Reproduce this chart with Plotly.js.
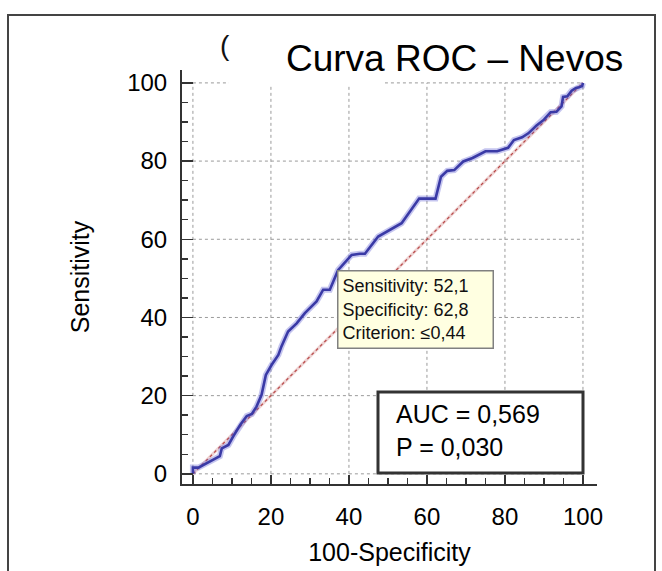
<!DOCTYPE html>
<html>
<head>
<meta charset="utf-8">
<script src="https://cdn.plot.ly/plotly-3.0.1.min.js"></script>
<style>html,body{margin:0;padding:0;background:#fff;}</style>
</head>
<body>
<div id="chart" style="width:662px;height:571px;"></div>
<script>
// 100-Specificity (false positive rate, %)
const fpr = [0,0,1.4,5.2,6.9,7.4,9.1,10.3,12.1,13.8,15.1,16.3,17.6,18.7,20.2,21.9,22.7,24.4,26.6,28.7,31.7,33.4,35.1,37.2,39,40.7,42.8,44.1,47.5,53.5,58,62.2,63.6,65.2,67,69.3,71.7,75,78,80.2,80.8,82.3,84.4,86,88.1,90,91.7,93.2,94.5,94.9,96,97.1,98.2,99,99.8,100];
// Sensitivity (%)
const tpr = [0,1.6,1.6,3.5,4.5,6.5,7.4,9.5,12.5,14.8,15.3,17.2,20.2,25.3,27.9,30.4,32.6,36.4,38.5,41.1,44.1,47.1,47.1,52.1,54.2,56,56.3,56.3,60.7,64.1,70.4,70.4,76,77.5,77.7,79.9,80.8,82.5,82.5,83.3,83.4,85.4,86.1,87.1,89.1,90.6,92.5,92.6,94,96.4,96.6,98,98.7,98.9,99.2,100];
const diagX = [0,100];
const diagY = [0,100];
const tickVals = [0,20,40,60,80,100];
const tooltipLines = ["Sensitivity: 52,1","Specificity: 62,8","Criterion: \u22640,44"];
const statLines = ["AUC = 0,569","P = 0,030"];
const titleText = "Curva ROC \u2013 Nevos";

const W = 662, H = 571;
const L = 182, R = 65, T = 70, B = 87;
const pw = W - L - R, ph = H - T - B;
const px = v => (v - L) / pw;
const py = v => (H - B - v) / ph;

const FONT = "Liberation Sans, Arial, sans-serif";

const traces = [
  {x: diagX, y: diagY, mode: 'lines', line: {color: 'rgba(200,110,110,0.3)', width: 3}, hoverinfo: 'skip', showlegend: false},
  {x: diagX, y: diagY, mode: 'lines', line: {color: '#b84a4a', width: 1.2, dash: 'dot'}, hoverinfo: 'skip', showlegend: false},
  {x: fpr, y: tpr, mode: 'lines', line: {color: 'rgba(90,90,210,0.35)', width: 6}, hoverinfo: 'skip', showlegend: false},
  {x: fpr, y: tpr, mode: 'lines', line: {color: '#3a3aa6', width: 2.6}, showlegend: false}
];

const shapes = [];
// gridlines within the data area
tickVals.forEach(v => {
  shapes.push({type: 'line', xref: 'x', yref: 'y', x0: v, x1: v, y0: 0, y1: 100, layer: 'below', line: {color: '#9a9a9a', width: 1, dash: 'dot'}});
  shapes.push({type: 'line', xref: 'x', yref: 'y', x0: 0, x1: 100, y0: v, y1: v, layer: 'below', line: {color: '#9a9a9a', width: 1, dash: 'dot'}});
});
// white patch over old title
shapes.push({type: 'rect', xref: 'paper', yref: 'paper', x0: px(229), x1: px(385), y0: py(84.5), y1: py(30), fillcolor: '#fff', line: {width: 0}, layer: 'above'});
// AUC box
shapes.push({type: 'rect', xref: 'paper', yref: 'paper', x0: px(378), x1: px(583), y0: py(473), y1: py(392), fillcolor: '#fff', line: {color: '#333', width: 3}, layer: 'above'});
// outer frame
shapes.push({type: 'rect', xref: 'paper', yref: 'paper', x0: px(8), x1: px(655), y0: py(590), y1: py(15), fillcolor: 'rgba(0,0,0,0)', line: {color: '#444', width: 2}, layer: 'above'});

const annotations = [
  {xref: 'paper', yref: 'paper', x: px(454), y: py(58), xanchor: 'center', yanchor: 'middle', text: titleText, showarrow: false, font: {family: FONT, size: 37, color: '#000'}},
  {xref: 'paper', yref: 'paper', x: px(225), y: py(46), xanchor: 'center', yanchor: 'middle', text: '(', showarrow: false, font: {family: FONT, size: 28, color: '#111'}},
  {xref: 'paper', yref: 'paper', x: px(337), y: py(270), xanchor: 'left', yanchor: 'top', text: tooltipLines.join('<br>'), align: 'left', showarrow: false,
   bgcolor: '#FFFFE1', bordercolor: '#808080', borderwidth: 1.5, borderpad: 4, width: 146, height: 68, font: {family: FONT, size: 18, color: '#111'}},
  {xref: 'paper', yref: 'paper', x: px(394), y: py(430), xanchor: 'left', yanchor: 'middle', text: statLines.join('<br>'), align: 'left', showarrow: false,
   font: {family: FONT, size: 25, color: '#000'}}
];

const axisCommon = {
  tickvals: tickVals, ticks: 'inside', tickcolor: '#333', tickwidth: 1.5,
  showline: true, linecolor: '#333', linewidth: 2, showgrid: false, zeroline: false,
  tickfont: {family: FONT, size: 24, color: '#000'},
  minor: {dtick: 5, tick0: 0, ticks: 'inside', ticklen: 6, tickcolor: '#333', tickwidth: 1.5, showgrid: false},
  fixedrange: true
};

const layout = {
  width: W, height: H,
  margin: {l: L, r: R, t: T, b: B, pad: 0},
  paper_bgcolor: '#fff', plot_bgcolor: '#fff',
  showlegend: false,
  xaxis: Object.assign({}, axisCommon, {range: [-2.8, 103.6], ticklen: 9, ticklabelstandoff: 10,
    title: {text: '100-Specificity', font: {family: FONT, size: 25, color: '#000'}, standoff: 15}}),
  yaxis: Object.assign({}, axisCommon, {range: [-2.6, 103.3], ticklen: 11, ticklabelstandoff: 8,
    title: {text: 'Sensitivity', font: {family: FONT, size: 25, color: '#000'}, standoff: 30}}),
  shapes: shapes,
  annotations: annotations
};

Plotly.newPlot('chart', traces, layout, {displayModeBar: false, staticPlot: true});
</script>
</body>
</html>
